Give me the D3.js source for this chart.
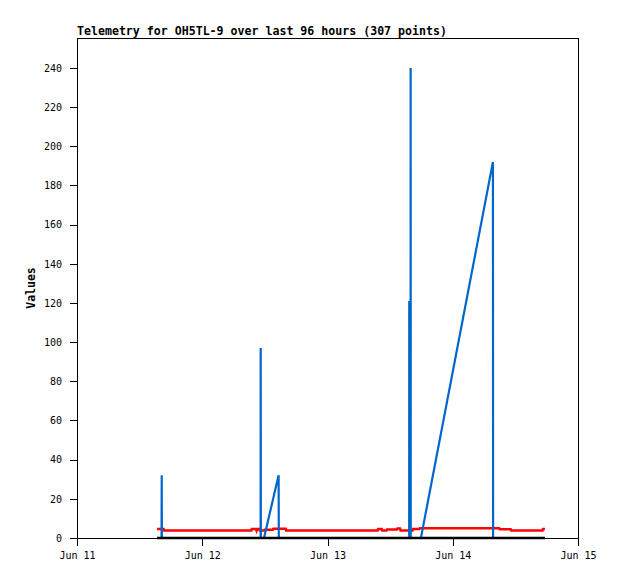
<!DOCTYPE html>
<html>
<head>
<meta charset="utf-8">
<script src="https://cdn.jsdelivr.net/npm/d3@7"></script>
<style>
  body { margin: 0; background: #fff; }
  svg { display: block; }
  text { font-family: "DejaVu Sans Mono", "Liberation Mono", monospace; fill: #000; }
</style>
</head>
<body>
<svg id="chart" width="618" height="579"></svg>
<script>
// ---- data ----
const titleText = "Telemetry for OH5TL-9 over last 96 hours (307 points)";
const yLabelText = "Values";

const blueTimes = ["2023-06-11 15:20","2023-06-11 16:12","2023-06-11 16:14","2023-06-11 16:16",
  "2023-06-12 11:11","2023-06-12 11:12","2023-06-12 11:14","2023-06-12 11:50","2023-06-12 14:38","2023-06-12 14:40",
  "2023-06-13 15:39","2023-06-13 15:40","2023-06-13 15:42","2023-06-13 15:55","2023-06-13 15:56","2023-06-13 15:57",
  "2023-06-13 17:54","2023-06-14 07:42","2023-06-14 07:44","2023-06-14 17:40"];
const blueValues = [0,0,32,0, 0,97,0,0,32,0, 0,121,0,0,240,0, 0,192,0,0];

const redTimes = ["2023-06-11 15:20","2023-06-11 16:36","2023-06-11 16:42",
  "2023-06-12 09:24","2023-06-12 09:30","2023-06-12 10:18","2023-06-12 10:24","2023-06-12 10:30","2023-06-12 10:54",
  "2023-06-12 11:00","2023-06-12 11:54","2023-06-12 12:00","2023-06-12 13:30","2023-06-12 13:36","2023-06-12 16:00","2023-06-12 16:06",
  "2023-06-13 09:36","2023-06-13 09:42","2023-06-13 10:24","2023-06-13 10:30","2023-06-13 11:18","2023-06-13 11:24",
  "2023-06-13 13:18","2023-06-13 13:24","2023-06-13 13:54","2023-06-13 14:00","2023-06-13 16:18","2023-06-13 16:24",
  "2023-06-13 17:36","2023-06-13 17:42","2023-06-14 08:54","2023-06-14 09:00","2023-06-14 11:06","2023-06-14 11:12",
  "2023-06-14 17:12","2023-06-14 17:18","2023-06-14 17:40"];
const redValues = [4.6,4.6,3.8,
  3.8,4.6,4.6,3.8,4.6,4.6,
  3.8,3.8,4.2,4.2,4.7,4.7,3.8,
  3.8,4.6,4.6,3.8,3.8,4.3,
  4.3,4.8,4.8,3.8,3.8,4.6,
  4.6,5.0,5.0,4.5,4.5,3.8,
  3.8,4.6,4.6];

const blackTimes = ["2023-06-11 15:20","2023-06-14 17:40"];
const blackValues = [0,0];

const xTickTimes = ["2023-06-11 00:00","2023-06-12 00:00","2023-06-13 00:00","2023-06-14 00:00","2023-06-15 00:00"];
const xTickLabels = ["Jun 11","Jun 12","Jun 13","Jun 14","Jun 15"];
const yTicks = [0,20,40,60,80,100,120,140,160,180,200,220,240];
const yMax = 255.3;

// ---- drawing ----
const parse = d3.timeParse("%Y-%m-%d %H:%M");
const svg = d3.select("#chart");
const mLeft = 77, mRight = 578, mTop = 38, mBottom = 538;

const x = d3.scaleTime()
  .domain([parse(xTickTimes[0]), parse(xTickTimes[xTickTimes.length - 1])])
  .range([mLeft, mRight]);
const y = d3.scaleLinear().domain([0, yMax]).range([mBottom, mTop]);

// frame
svg.append("rect")
  .attr("x", mLeft + 0.5).attr("y", mTop + 0.5)
  .attr("width", mRight - mLeft).attr("height", mBottom - mTop)
  .attr("fill", "none").attr("stroke", "#000").attr("stroke-width", 1)
  .attr("shape-rendering", "crispEdges");

// y axis
const yAxis = d3.axisLeft(y).tickValues(yTicks).tickSize(7).tickPadding(8);
const gy = svg.append("g").attr("transform", `translate(${mLeft},0)`).call(yAxis);
gy.select(".domain").remove();
gy.selectAll("line").attr("stroke", "#000").attr("shape-rendering", "crispEdges");
gy.selectAll("text").attr("font-size", "10px").attr("font-family", '"DejaVu Sans Mono", monospace');

// x axis
const xTickDates = xTickTimes.map(parse);
const xAxis = d3.axisBottom(x).tickValues(xTickDates)
  .tickFormat((d, i) => xTickLabels[i]).tickSize(8).tickPadding(6);
const gx = svg.append("g").attr("transform", `translate(0,${mBottom})`).call(xAxis);
gx.select(".domain").remove();
gx.selectAll("line").attr("stroke", "#000").attr("shape-rendering", "crispEdges");
gx.selectAll("text").attr("font-size", "10px").attr("font-family", '"DejaVu Sans Mono", monospace');

// series
const line = d3.line().x(d => x(d[0])).y(d => y(d[1]));
function series(times, values) { return times.map((t, i) => [parse(t), values[i]]); }

svg.append("path").datum(series(redTimes, redValues))
  .attr("d", line).attr("fill", "none").attr("stroke", "#ff0000")
  .attr("stroke-width", 2.5).attr("stroke-linejoin", "miter");

svg.append("path").datum(series(blueTimes, blueValues))
  .attr("d", line).attr("fill", "none").attr("stroke", "#0066cc")
  .attr("stroke-width", 2.2).attr("stroke-linejoin", "miter");

svg.append("path").datum(series(blackTimes, blackValues))
  .attr("d", line).attr("fill", "none").attr("stroke", "#000")
  .attr("stroke-width", 2.5);

// title
svg.append("text").attr("x", mLeft).attr("y", 35)
  .attr("font-size", "11.6px").attr("font-weight", "bold").text(titleText);

// y label
svg.append("text").attr("transform", `translate(35,${(mTop + mBottom) / 2}) rotate(-90)`)
  .attr("text-anchor", "middle").attr("font-size", "11.5px").attr("font-weight", "bold")
  .text(yLabelText);
</script>
</body>
</html>
